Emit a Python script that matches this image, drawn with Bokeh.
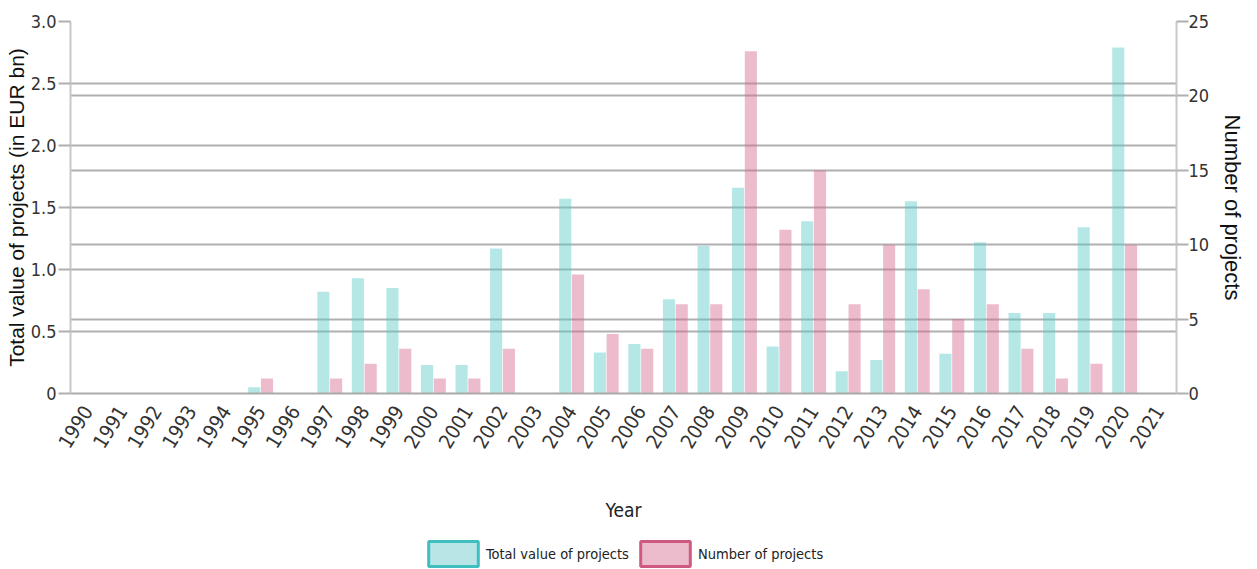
import math
from bokeh.plotting import figure
from bokeh.layouts import column
from bokeh.models import (FactorRange, Range1d, LinearAxis, Grid, SingleIntervalTicker,
                          Legend, LegendItem, ColumnDataSource, NumeralTickFormatter)
from bokeh.transform import dodge
from bokeh.embed import file_html
from bokeh.resources import INLINE

years = [str(y) for y in range(1990, 2022)]
total_value = [0, 0, 0, 0, 0, 0.05, 0, 0.82, 0.93, 0.85, 0.23, 0.23, 1.17, 0, 1.57, 0.33,
               0.40, 0.76, 1.19, 1.66, 0.38, 1.39, 0.18, 0.27, 1.55, 0.32, 1.22, 0.65, 0.65,
               1.34, 2.79, 0]
num_projects = [0, 0, 0, 0, 0, 1, 0, 1, 2, 3, 1, 1, 3, 0, 8, 4, 3, 6, 6, 23, 11, 15, 6, 10,
                7, 5, 6, 3, 1, 2, 10, 0]

left_label = "Total value of projects (in EUR bn)"
right_label = "Number of projects"
x_label = "Year"
series_names = ["Total value of projects", "Number of projects"]

NARROW = "DejaVu Sans Condensed, Liberation Sans, sans-serif"
REG = "Liberation Sans, sans-serif"
GRID = "#b0b0b0"
W = 1249

src = ColumnDataSource(dict(year=years, value=total_value, count=num_projects))

p = figure(width=W, height=527, x_range=FactorRange(*years), y_range=Range1d(0, 3.0),
           output_backend="svg", toolbar_location=None,
           min_border_left=70, min_border_right=73, min_border_top=21, min_border_bottom=134)
p.outline_line_color = None
p.extra_y_ranges = {"right": Range1d(0, 25)}

# grids
p.xgrid.grid_line_color = None
p.ygrid.grid_line_color = GRID
p.ygrid.grid_line_width = 2
p.ygrid.ticker = SingleIntervalTicker(interval=0.5)
rgrid = Grid(dimension=1, ticker=SingleIntervalTicker(interval=5), y_range_name="right",
             grid_line_color=GRID, grid_line_width=2)
p.add_layout(rgrid)

# bars
p.vbar(x=dodge("year", -0.185, range=p.x_range), top="value", width=0.35, source=src,
       fill_color="#5cc9c9", fill_alpha=0.45, line_color=None)
p.vbar(x=dodge("year", 0.185, range=p.x_range), top="count", width=0.35, source=src,
       y_range_name="right", fill_color="#d86a8f", fill_alpha=0.45, line_color=None)

# left axis
ya = p.yaxis[0]
ya.ticker = SingleIntervalTicker(interval=0.5)
ya.formatter = NumeralTickFormatter(format="0.0")
ya.major_label_overrides = {0: "0"}
ya.axis_label = left_label
ya.axis_label_text_font = REG
ya.axis_label_text_font_size = "21px"
ya.axis_label_text_font_style = "normal"
ya.axis_label_text_color = "#111111"
ya.axis_label_standoff = 0
ya.major_label_text_font = NARROW
ya.major_label_text_font_size = "18px"
ya.major_label_text_color = "#333333"
ya.major_label_standoff = 2
ya.major_tick_out = 12
ya.major_tick_in = 0
ya.minor_tick_out = 0
ya.minor_tick_in = 0
ya.major_tick_line_color = GRID
ya.major_tick_line_width = 2
ya.axis_line_color = "#c8c8c8"
ya.axis_line_width = 2

# right axis
ra = LinearAxis(y_range_name="right", ticker=SingleIntervalTicker(interval=5),
                axis_label=right_label)
ra.axis_label_text_font = REG
ra.axis_label_text_font_size = "22px"
ra.axis_label_text_font_style = "normal"
ra.axis_label_text_color = "#111111"
ra.axis_label_standoff = 8
ra.major_label_text_font = NARROW
ra.major_label_text_font_size = "18px"
ra.major_label_text_color = "#333333"
ra.major_label_standoff = 0
ra.major_tick_out = 12
ra.major_tick_in = 0
ra.minor_tick_out = 0
ra.minor_tick_in = 0
ra.major_tick_line_color = GRID
ra.major_tick_line_width = 2
ra.axis_line_color = "#c8c8c8"
ra.axis_line_width = 2
p.add_layout(ra, "right")

# x axis
xa = p.xaxis[0]
xa.axis_label = x_label
xa.axis_label_text_font = NARROW
xa.axis_label_text_font_size = "19px"
xa.axis_label_text_font_style = "normal"
xa.axis_label_text_color = "#222222"
xa.axis_label_standoff = 42
xa.major_label_orientation = math.radians(58)
xa.major_label_text_font = NARROW
xa.major_label_text_font_size = "20px"
xa.major_label_text_color = "#333333"
xa.major_label_standoff = 14
xa.major_tick_out = 0
xa.major_tick_in = 0
xa.axis_line_color = "#aaaaaa"
xa.axis_line_width = 2

# legend in its own strip below
lf = figure(width=W, height=42, x_range=Range1d(0, 1), y_range=Range1d(0, 1),
            output_backend="svg", toolbar_location=None,
            x_axis_location=None, y_axis_location=None, min_border=0)
lf.outline_line_color = None
lf.xgrid.grid_line_color = None
lf.ygrid.grid_line_color = None
e1 = lf.rect(x=[-5], y=[-5], width=1, height=1, fill_color="#b8e6e6",
             line_color="#3fbfbf", line_width=3)
e2 = lf.rect(x=[-5], y=[-5], width=1, height=1, fill_color="#ecbccc",
             line_color="#cf5a80", line_width=3)
legend = Legend(items=[LegendItem(label=series_names[0], renderers=[e1]),
                       LegendItem(label=series_names[1], renderers=[e2])],
                orientation="horizontal", location=(352, 0))
legend.glyph_width = 62
legend.glyph_height = 31
legend.label_text_font = NARROW
legend.label_text_font_size = "14.5px"
legend.label_text_color = "#222222"
legend.label_standoff = 2
legend.spacing = 5
legend.padding = 0
legend.margin = 0
legend.border_line_color = None
legend.background_fill_alpha = 0
lf.add_layout(legend)

layout = column(p, lf, spacing=0)
open("out.html", "w").write(file_html(layout, INLINE))
